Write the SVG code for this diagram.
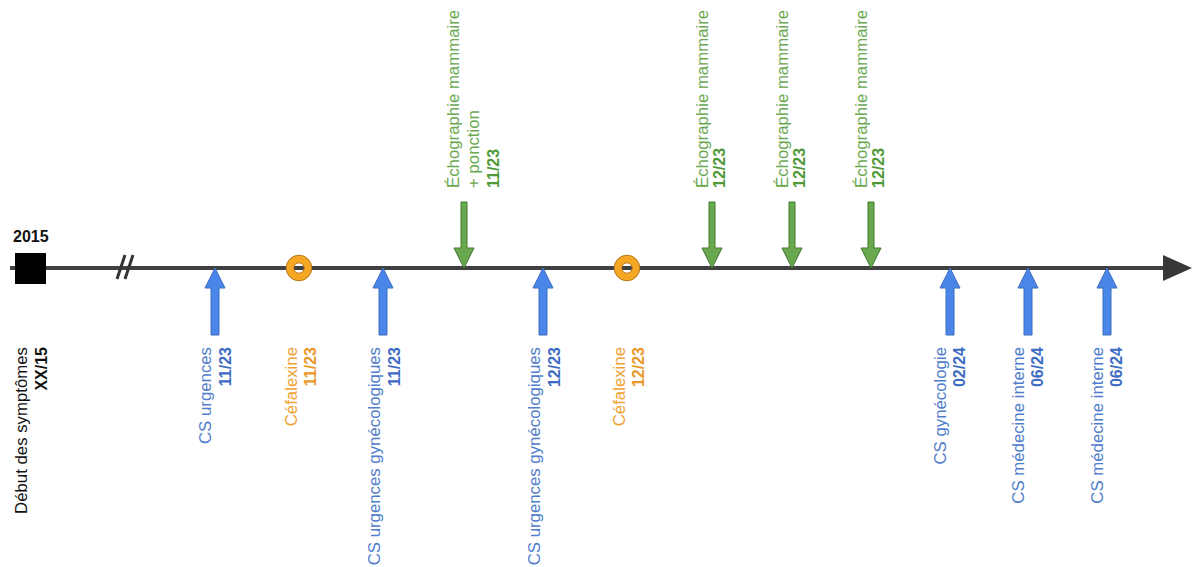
<svg xmlns="http://www.w3.org/2000/svg" width="1192" height="567" viewBox="0 0 1192 567">
  <defs>
    <style>
      .lbl { font-family: "Liberation Sans", Arial, sans-serif; font-size: 16.8px; }
      .b { font-weight: bold; font-size: 16px; }
      .blue { fill: #4f7ccc; }
      .blue .b { fill: #3d6bc3; }
      .orange { fill: #f0a232; }
      .orange .b { fill: #e9982a; }
      .green { fill: #6aa84f; }
      .green .b { fill: #4f9a37; }
      .black { fill: #111; }
      .up-arrow { fill: #4a86e8; stroke: #3a6cc0; stroke-width: 1; }
      .down-arrow { fill: #6aa84f; stroke: #3f7a28; stroke-width: 1; }
      .ring { fill: none; stroke: #f5a623; stroke-width: 7.5; }
      .ring-edge { fill: none; stroke: #b8791c; stroke-width: 1; }
    </style>
    <!-- arrow pointing up, tip at origin -->
    <path id="upArrow" d="M0,0 L10,20 L4,20 L4,67 L-4,67 L-4,20 L-10,20 Z"/>
    <!-- arrow pointing down, tip at origin -->
    <path id="downArrow" d="M0,0 L-10,-20 L-3,-20 L-3,-66 L3,-66 L3,-20 L10,-20 Z"/>
  </defs>

  <rect width="1192" height="567" fill="#ffffff"/>

  <!-- timeline axis -->
  <g id="connectors">
    <line x1="10" y1="268" x2="1166" y2="268" stroke="#404040" stroke-width="4"/>
    <polygon points="1163,255 1192,268 1163,281" fill="#383838"/>
    <!-- break mark -->
    <line x1="125" y1="255" x2="117" y2="279" stroke="#333" stroke-width="3"/>
    <line x1="133" y1="255" x2="125" y2="279" stroke="#333" stroke-width="3"/>
  </g>

  <!-- start of symptoms -->
  <g id="start">
    <rect x="15" y="253" width="31" height="31" fill="#000"/>
    <text class="lbl b black" x="13" y="242">2015</text>
    <text class="lbl black" text-anchor="end" transform="translate(27,347) rotate(-90)">Début des symptômes<tspan class="b" x="0" dy="20">XX/15</tspan></text>
  </g>

  <!-- consultations (blue) -->
  <g id="cs-urgences-1123" class="blue">
    <use href="#upArrow" class="up-arrow" x="215" y="268"/>
    <text class="lbl" text-anchor="end" transform="translate(211,347) rotate(-90)">CS urgences<tspan class="b" x="0" dy="20">11/23</tspan></text>
  </g>
  <g id="cs-urg-gyn-1123" class="blue">
    <use href="#upArrow" class="up-arrow" x="383" y="268"/>
    <text class="lbl" text-anchor="end" transform="translate(380,347) rotate(-90)">CS urgences gynécologiques<tspan class="b" x="0" dy="20">11/23</tspan></text>
  </g>
  <g id="cs-urg-gyn-1223" class="blue">
    <use href="#upArrow" class="up-arrow" x="543" y="268"/>
    <text class="lbl" text-anchor="end" transform="translate(540,347) rotate(-90)">CS urgences gynécologiques<tspan class="b" x="0" dy="20">12/23</tspan></text>
  </g>
  <g id="cs-gyn-0224" class="blue">
    <use href="#upArrow" class="up-arrow" x="950" y="268"/>
    <text class="lbl" text-anchor="end" transform="translate(946,347) rotate(-90)">CS gynécologie<tspan class="b" x="0" dy="19">02/24</tspan></text>
  </g>
  <g id="cs-med-int-0624a" class="blue">
    <use href="#upArrow" class="up-arrow" x="1028" y="268"/>
    <text class="lbl" text-anchor="end" transform="translate(1024,347) rotate(-90)">CS médecine interne<tspan class="b" x="0" dy="19">06/24</tspan></text>
  </g>
  <g id="cs-med-int-0624b" class="blue">
    <use href="#upArrow" class="up-arrow" x="1107" y="268"/>
    <text class="lbl" text-anchor="end" transform="translate(1103,347) rotate(-90)">CS médecine interne<tspan class="b" x="0" dy="19">06/24</tspan></text>
  </g>

  <!-- treatments (orange) -->
  <g id="cefalexine-1123" class="orange">
    <circle cx="299" cy="268" r="9" class="ring"/>
    <circle cx="299" cy="268" r="12.8" class="ring-edge"/>
    <circle cx="299" cy="268" r="5.2" class="ring-edge"/>
    <text class="lbl" text-anchor="end" transform="translate(297,347) rotate(-90)">Céfalexine<tspan class="b" x="0" dy="19">11/23</tspan></text>
  </g>
  <g id="cefalexine-1223" class="orange">
    <circle cx="627" cy="268" r="9" class="ring"/>
    <circle cx="627" cy="268" r="12.8" class="ring-edge"/>
    <circle cx="627" cy="268" r="5.2" class="ring-edge"/>
    <text class="lbl" text-anchor="end" transform="translate(625,347) rotate(-90)">Céfalexine<tspan class="b" x="0" dy="19">12/23</tspan></text>
  </g>

  <!-- imaging (green) -->
  <g id="echo-ponction-1123" class="green">
    <use href="#downArrow" class="down-arrow" x="464" y="268"/>
    <text class="lbl" transform="translate(459,188) rotate(-90)">Échographie mammaire<tspan x="0" dy="20">+ ponction</tspan><tspan class="b" x="0" dy="20">11/23</tspan></text>
  </g>
  <g id="echo-1223a" class="green">
    <use href="#downArrow" class="down-arrow" x="712" y="268"/>
    <text class="lbl" transform="translate(708,188) rotate(-90)">Échographie mammaire<tspan class="b" x="0" dy="17">12/23</tspan></text>
  </g>
  <g id="echo-1223b" class="green">
    <use href="#downArrow" class="down-arrow" x="792" y="268"/>
    <text class="lbl" transform="translate(788,188) rotate(-90)">Échographie mammaire<tspan class="b" x="0" dy="17">12/23</tspan></text>
  </g>
  <g id="echo-1223c" class="green">
    <use href="#downArrow" class="down-arrow" x="871" y="268"/>
    <text class="lbl" transform="translate(867,188) rotate(-90)">Échographie mammaire<tspan class="b" x="0" dy="17">12/23</tspan></text>
  </g>
</svg>
